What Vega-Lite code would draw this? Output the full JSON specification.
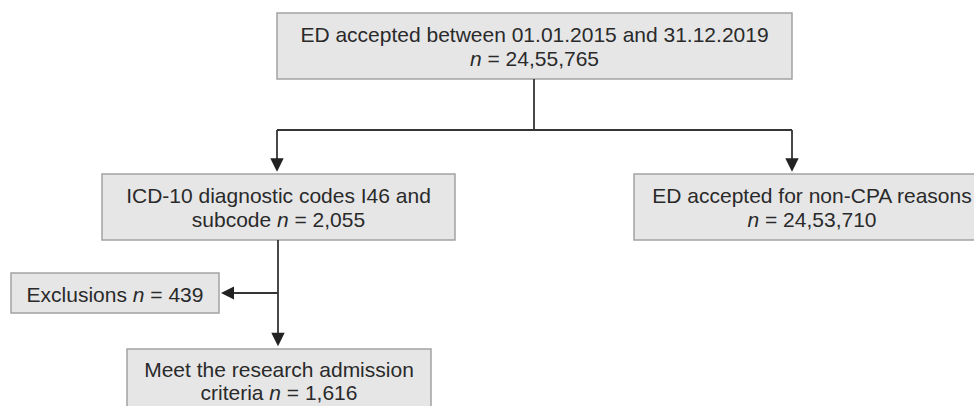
{
  "$schema": "https://vega.github.io/schema/vega-lite/v6.json",
  "width": 974,
  "height": 406,
  "autosize": "none",
  "padding": 0,
  "background": "white",
  "config": {"view": {"stroke": null}},
  "datasets": {
    "boxes": [
      {"id": "total", "x": 277, "x2": 792, "y": 13, "y2": 79},
      {"id": "icd", "x": 102, "x2": 455, "y": 174, "y2": 240},
      {"id": "noncpa", "x": 634, "x2": 990, "y": 174, "y2": 240},
      {"id": "excl", "x": 11, "x2": 219, "y": 273, "y2": 313},
      {"id": "meet", "x": 127, "x2": 431, "y": 349, "y2": 420}
    ],
    "lines": [
      {"x": 534, "x2": 534, "y": 79, "y2": 130},
      {"x": 277, "x2": 792, "y": 130, "y2": 130},
      {"x": 277, "x2": 277, "y": 130, "y2": 162},
      {"x": 792, "x2": 792, "y": 130, "y2": 162},
      {"x": 278, "x2": 278, "y": 240, "y2": 337},
      {"x": 278, "x2": 228, "y": 293, "y2": 293}
    ],
    "arrows": [
      {"dir": "down", "x": 277, "y": 165},
      {"dir": "down", "x": 792, "y": 165},
      {"dir": "down", "x": 278, "y": 339.5},
      {"dir": "left", "x": 227.5, "y": 293}
    ],
    "texts": [
      {"kind": "center", "text": "ED accepted between 01.01.2015 and 31.12.2019", "x": 534.5, "y": 42.3},
      {"kind": "center", "text": "ICD-10 diagnostic codes I46 and", "x": 278.5, "y": 203.3},
      {"kind": "center", "text": "ED accepted for non-CPA reasons", "x": 812, "y": 203.3},
      {"kind": "center", "text": "Meet the research admission", "x": 279, "y": 377},
      {"kind": "plain", "text": "= 24,55,765", "x": 487.5, "y": 65.7},
      {"kind": "plain", "text": "subcode", "x": 191.8, "y": 226.7},
      {"kind": "plain", "text": "= 2,055", "x": 294.5, "y": 226.7},
      {"kind": "plain", "text": "= 24,53,710", "x": 765, "y": 226.7},
      {"kind": "plain", "text": "Exclusions", "x": 26.6, "y": 301.7},
      {"kind": "plain", "text": "= 439", "x": 150.3, "y": 301.7},
      {"kind": "plain", "text": "criteria", "x": 200.5, "y": 400},
      {"kind": "plain", "text": "= 1,616", "x": 286.8, "y": 400},
      {"kind": "italic", "text": "n", "x": 470, "y": 65.7},
      {"kind": "italic", "text": "n", "x": 277, "y": 226.7},
      {"kind": "italic", "text": "n", "x": 747.5, "y": 226.7},
      {"kind": "italic", "text": "n", "x": 132.8, "y": 301.7},
      {"kind": "italic", "text": "n", "x": 269.3, "y": 400}
    ]
  },
  "layer": [
    {
      "data": {"name": "boxes"},
      "mark": {"type": "rect", "fill": "#e6e6e7", "stroke": "#a3a3a3", "strokeWidth": 1.5, "clip": true},
      "encoding": {
        "x": {"field": "x", "type": "quantitative", "scale": {"domain": [0, 974], "nice": false, "zero": false}, "axis": null},
        "x2": {"field": "x2"},
        "y": {"field": "y", "type": "quantitative", "scale": {"domain": [0, 406], "nice": false, "zero": false, "reverse": true}, "axis": null},
        "y2": {"field": "y2"}
      }
    },
    {
      "data": {"name": "lines"},
      "mark": {"type": "rule", "stroke": "#353535", "strokeWidth": 1.8},
      "encoding": {
        "x": {"field": "x", "type": "quantitative"},
        "x2": {"field": "x2"},
        "y": {"field": "y", "type": "quantitative"},
        "y2": {"field": "y2"}
      }
    },
    {
      "data": {"name": "arrows"},
      "transform": [{"filter": "datum.dir === 'down'"}],
      "mark": {"type": "point", "shape": "M-1,-1L1,-1L0,1Z", "filled": true, "fill": "#222222", "stroke": null, "size": 180, "opacity": 1},
      "encoding": {
        "x": {"field": "x", "type": "quantitative"},
        "y": {"field": "y", "type": "quantitative"}
      }
    },
    {
      "data": {"name": "arrows"},
      "transform": [{"filter": "datum.dir === 'left'"}],
      "mark": {"type": "point", "shape": "M1,-1L1,1L-1,0Z", "filled": true, "fill": "#222222", "stroke": null, "size": 170, "opacity": 1},
      "encoding": {
        "x": {"field": "x", "type": "quantitative"},
        "y": {"field": "y", "type": "quantitative"}
      }
    },
    {
      "data": {"name": "texts"},
      "transform": [{"filter": "datum.kind === 'center'"}],
      "mark": {"type": "text", "font": "Liberation Sans", "fontSize": 21, "color": "#2a2a2a", "align": "center", "baseline": "alphabetic", "clip": true},
      "encoding": {
        "x": {"field": "x", "type": "quantitative"},
        "y": {"field": "y", "type": "quantitative"},
        "text": {"field": "text"}
      }
    },
    {
      "data": {"name": "texts"},
      "transform": [{"filter": "datum.kind === 'plain'"}],
      "mark": {"type": "text", "font": "Liberation Sans", "fontSize": 21, "color": "#2a2a2a", "align": "left", "baseline": "alphabetic"},
      "encoding": {
        "x": {"field": "x", "type": "quantitative"},
        "y": {"field": "y", "type": "quantitative"},
        "text": {"field": "text"}
      }
    },
    {
      "data": {"name": "texts"},
      "transform": [{"filter": "datum.kind === 'italic'"}],
      "mark": {"type": "text", "font": "Liberation Sans", "fontSize": 21, "fontStyle": "italic", "color": "#2a2a2a", "align": "left", "baseline": "alphabetic"},
      "encoding": {
        "x": {"field": "x", "type": "quantitative"},
        "y": {"field": "y", "type": "quantitative"},
        "text": {"field": "text"}
      }
    }
  ]
}
